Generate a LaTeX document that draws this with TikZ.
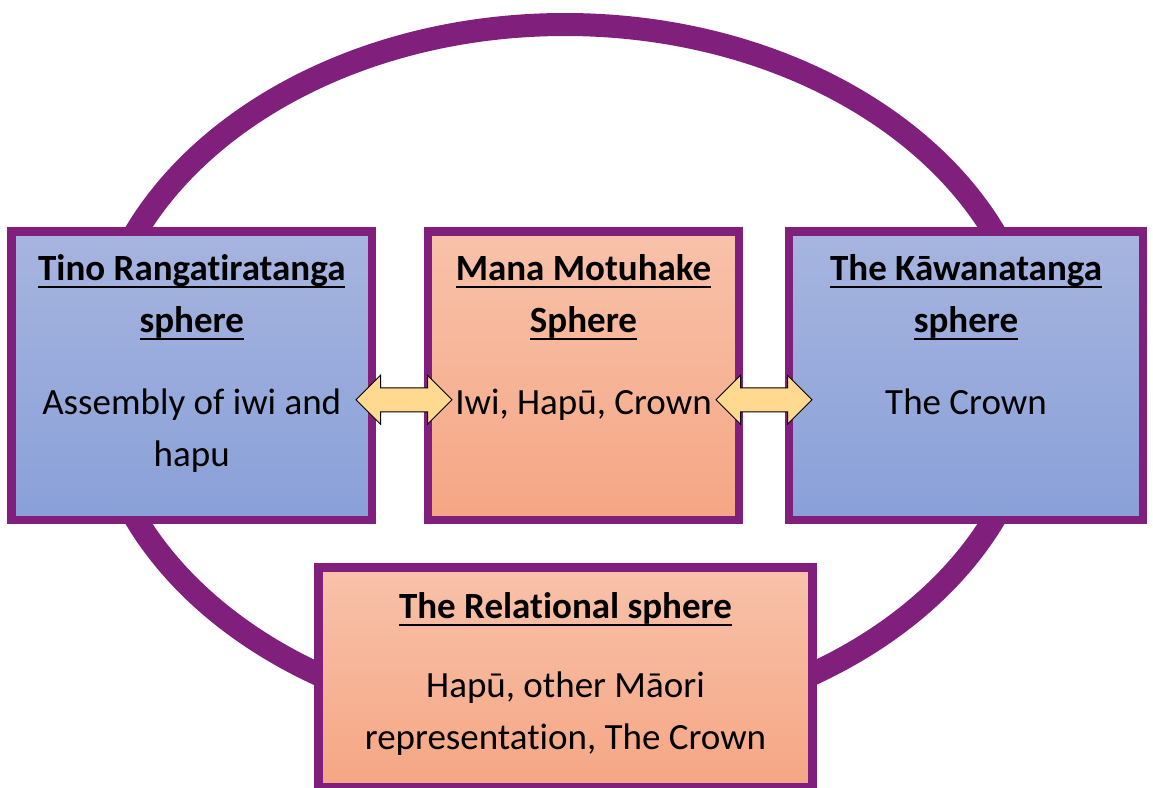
\documentclass[tikz,border=0pt]{standalone}
\usepackage{fontspec}
\setmainfont[Ligatures=NoCommon]{Carlito}
\usepackage{tikz}
\usetikzlibrary{calc,positioning}
\usetikzlibrary{shapes.arrows}
\definecolor{sphPurple}{RGB}{128,32,124}
\definecolor{blueTop}{RGB}{167,181,223}
\definecolor{blueBot}{RGB}{137,160,216}
\definecolor{orangeTop}{RGB}{248,194,170}
\definecolor{orangeBot}{RGB}{245,166,132}
\definecolor{arrowFill}{RGB}{255,217,143}
\newcommand{\sphTitle}[1]{\leavevmode\setbox0\hbox{\bfseries #1}\rlap{\rule[-8pt]{\wd0}{2.5pt}}\box0}
\newcommand{\sphStrut}{\rule{0pt}{30pt}}

\begin{document}
\begin{tikzpicture}[x=1pt,y=1pt,
    sphbox/.style={draw=sphPurple,line width=8.5pt,rectangle,outer sep=0pt,inner sep=0pt,minimum height=288.5pt},
    bluebox/.style={sphbox,top color=blueTop,bottom color=blueBot},
    orangebox/.style={sphbox,top color=orangeTop,bottom color=orangeBot},
    sphtext/.style={anchor=north,inner sep=0pt,align=center,font=\fontsize{37}{52}\selectfont},
    dblarrow/.style={double arrow,draw=black,line width=1pt,fill=arrowFill,minimum height=96pt,inner xsep=0pt,inner ysep=11.5pt,double arrow head extend=12.5pt}]

      \useasboundingbox (0,0) rectangle (1153,-787);

      \coordinate (ring) at (565,-375.5);
      \draw [sphPurple, line width=23pt] (ring) ellipse [x radius=470, y radius=351];

      \node[bluebox,minimum width=360.5pt] (tino) at (191.75,-375.75) {};
      \node[orangebox,minimum width=311pt] (mana) [right=56pt of tino] {};
      \node[bluebox,minimum width=354pt] (kawa) [right=50pt of mana] {};
      \node[orangebox,minimum width=494pt,minimum height=219.5pt,xshift=-18pt] (rel) [below=47.5pt of mana] {};

      \node[sphtext] (tinoText) [below=18.5pt of tino.north]
        {\sphStrut\sphTitle{Tino Rangatiratanga}\\ \sphTitle{sphere}\\[30pt] Assembly of iwi and\\ hapu};
      \node[sphtext] (manaText) [below=18.5pt of mana.north]
        {\sphStrut\sphTitle{Mana Motuhake}\\ \sphTitle{Sphere}\\[30pt] Iwi, Hapū, Crown};
      \node[sphtext] (kawaText) [below=18.5pt of kawa.north]
        {\sphStrut\sphTitle{The Kāwanatanga}\\ \sphTitle{sphere}\\[30pt] The Crown};
      \node[sphtext] (relText) [below=20.5pt of rel.north]
        {\sphStrut\sphTitle{The Relational sphere}\\[27pt] Hapū, other Māori\\ representation, The Crown};

      \node[dblarrow] (arrL) at ($(tino.east)!0.5!(mana.west)+(4,-24)$) {};
      \node[dblarrow] (arrR) at ($(mana.east)!0.5!(kawa.west)+(0,-24)$) {};
    \end{tikzpicture}
\end{document}
